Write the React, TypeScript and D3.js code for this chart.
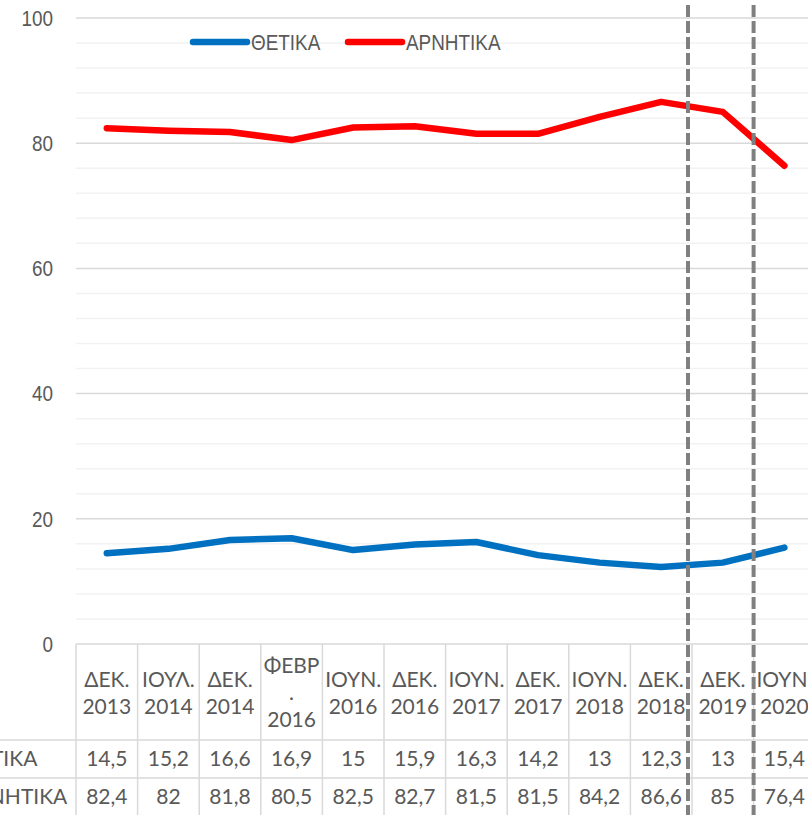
import React, { useRef, useEffect } from 'react';
import * as d3 from 'd3';

const categories = [
  ['ΔΕΚ.', '2013'],
  ['ΙΟΥΛ.', '2014'],
  ['ΔΕΚ.', '2014'],
  ['ΦΕΒΡ', '.', '2016'],
  ['ΙΟΥΝ.', '2016'],
  ['ΔΕΚ.', '2016'],
  ['ΙΟΥΝ.', '2017'],
  ['ΔΕΚ.', '2017'],
  ['ΙΟΥΝ.', '2018'],
  ['ΔΕΚ.', '2018'],
  ['ΔΕΚ.', '2019'],
  ['ΙΟΥΝ.', '2020'],
];
const positive = [14.5, 15.2, 16.6, 16.9, 15, 15.9, 16.3, 14.2, 13, 12.3, 13, 15.4];
const negative = [82.4, 82, 81.8, 80.5, 82.5, 82.7, 81.5, 81.5, 84.2, 86.6, 85, 76.4];
const seriesNames = ['ΘΕΤΙΚΑ', 'ΑΡΝΗΤΙΚΑ'];
const seriesColors = ['#0070C0', '#FF0000'];
const yTicks = [0, 20, 40, 60, 80, 100];
// the two dashed separators sit before these categories
const breakIndexes = [10, 11];

const width = 808;
const height = 815;
const axisFont = '"Liberation Sans", Arial, sans-serif';
const tableFont = 'Lato, "Noto Sans", sans-serif';
const textColor = '#595959';
// the axis and legend font is a narrow one, squeeze the regular one
const narrow = 0.86;

function App() {
  const svgRef = useRef<SVGSVGElement>(null);

  useEffect(() => {
    const svg = d3.select(svgRef.current);
    svg.selectAll('*').remove();

    const keys = categories.map((c, i) => String(i));
    const x = d3.scaleBand().domain(keys).range([76, 76 + 12 * 61.6]).padding(0);
    const y = d3.scaleLinear().domain([0, 100]).range([644, 18]);
    const cx = (i: number) => (x(String(i)) as number) + x.bandwidth() / 2;
    const right = x.range()[1];

    // gridlines: minor every 4, major every 20
    const minor = d3.range(0, 101, 4).filter((v) => v % 20 !== 0);
    svg
      .append('g')
      .selectAll('line')
      .data(minor)
      .join('line')
      .attr('x1', 76)
      .attr('x2', right)
      .attr('y1', (d) => y(d))
      .attr('y2', (d) => y(d))
      .attr('stroke', '#f2f2f2')
      .attr('stroke-width', 1.5);

    svg
      .append('g')
      .selectAll('line')
      .data(yTicks)
      .join('line')
      .attr('x1', 76)
      .attr('x2', right)
      .attr('y1', (d) => y(d))
      .attr('y2', (d) => y(d))
      .attr('stroke', '#d9d9d9')
      .attr('stroke-width', 1.5);

    svg
      .append('g')
      .selectAll('text')
      .data(yTicks)
      .join('text')
      .attr('transform', (d) => `translate(53,${y(d)}) scale(${narrow},1)`)
      .attr('dy', '0.35em')
      .attr('text-anchor', 'end')
      .attr('font-family', axisFont)
      .attr('font-size', '22px')
      .attr('fill', textColor)
      .text((d) => d);

    // data table borders
    const rowTop = [644, 740, 778, 815];
    const table = svg.append('g').attr('stroke', '#d9d9d9').attr('stroke-width', 1.5);
    table
      .selectAll('line.h')
      .data([740, 778])
      .join('line')
      .attr('class', 'h')
      .attr('x1', 0)
      .attr('x2', right)
      .attr('y1', (d) => d)
      .attr('y2', (d) => d);
    table
      .selectAll('line.v')
      .data(d3.range(0, 13))
      .join('line')
      .attr('class', 'v')
      .attr('x1', (i) => (i < 12 ? (x(String(i)) as number) : right))
      .attr('x2', (i) => (i < 12 ? (x(String(i)) as number) : right))
      .attr('y1', rowTop[0])
      .attr('y2', height);

    // header labels
    const header = svg
      .append('g')
      .attr('font-family', tableFont)
      .attr('font-size', '21px')
      .attr('fill', textColor)
      .attr('text-anchor', 'middle');
    categories.forEach((lines, i) => {
      const start = 693 - ((lines.length - 1) * 27) / 2;
      lines.forEach((t, j) => {
        header
          .append('text')
          .attr('x', cx(i))
          .attr('y', start + j * 27)
          .attr('dy', '0.35em')
          .text(t);
      });
    });

    // value rows
    const rows = [positive, negative];
    const fmt = (v: number) => String(v).replace('.', ',');
    rows.forEach((vals, r) => {
      const mid = (rowTop[r + 1] + rowTop[r + 2]) / 2;
      const g = svg
        .append('g')
        .attr('font-family', tableFont)
        .attr('font-size', '21px')
        .attr('fill', textColor);
      g.append('text')
        .attr('x', -38)
        .attr('y', mid)
        .attr('dy', '0.35em')
        .text(seriesNames[r]);
      g.selectAll('text.v')
        .data(vals)
        .join('text')
        .attr('class', 'v')
        .attr('x', (d, i) => cx(i))
        .attr('y', mid)
        .attr('dy', '0.35em')
        .attr('text-anchor', 'middle')
        .text((d) => fmt(d));
    });

    // lines
    const line = d3
      .line<number>()
      .x((d, i) => cx(i))
      .y((d) => y(d));
    [positive, negative].forEach((vals, r) => {
      svg
        .append('path')
        .datum(vals)
        .attr('fill', 'none')
        .attr('stroke', seriesColors[r])
        .attr('stroke-width', 6.5)
        .attr('stroke-linecap', 'round')
        .attr('stroke-linejoin', 'round')
        .attr('d', line);
    });

    // dashed separators
    svg
      .append('g')
      .selectAll('line')
      .data(breakIndexes)
      .join('line')
      .attr('x1', (d, k) => (x(String(d)) as number) - (k === 0 ? 4 : 0))
      .attr('x2', (d, k) => (x(String(d)) as number) - (k === 0 ? 4 : 0))
      .attr('y1', 5)
      .attr('y2', height)
      .attr('stroke', '#808080')
      .attr('stroke-width', 4)
      .attr('stroke-dasharray', '12 4');

    // legend
    const legendX = [193, 348];
    const legend = svg.append('g');
    seriesNames.forEach((name, r) => {
      legend
        .append('line')
        .attr('x1', legendX[r])
        .attr('x2', legendX[r] + 54)
        .attr('y1', 42)
        .attr('y2', 42)
        .attr('stroke', seriesColors[r])
        .attr('stroke-width', 6.5)
        .attr('stroke-linecap', 'round');
      legend
        .append('text')
        .attr('transform', `translate(${legendX[r] + 58},42) scale(${narrow},1)`)
        .attr('dy', '0.35em')
        .attr('font-family', axisFont)
        .attr('font-size', '22px')
        .attr('fill', textColor)
        .text(name);
    });
  }, []);

  return (
    <svg
      ref={svgRef}
      width={width}
      height={height}
      style={{ position: 'absolute', left: 0, top: 0, background: '#fff' }}
    ></svg>
  );
}

export default App;
